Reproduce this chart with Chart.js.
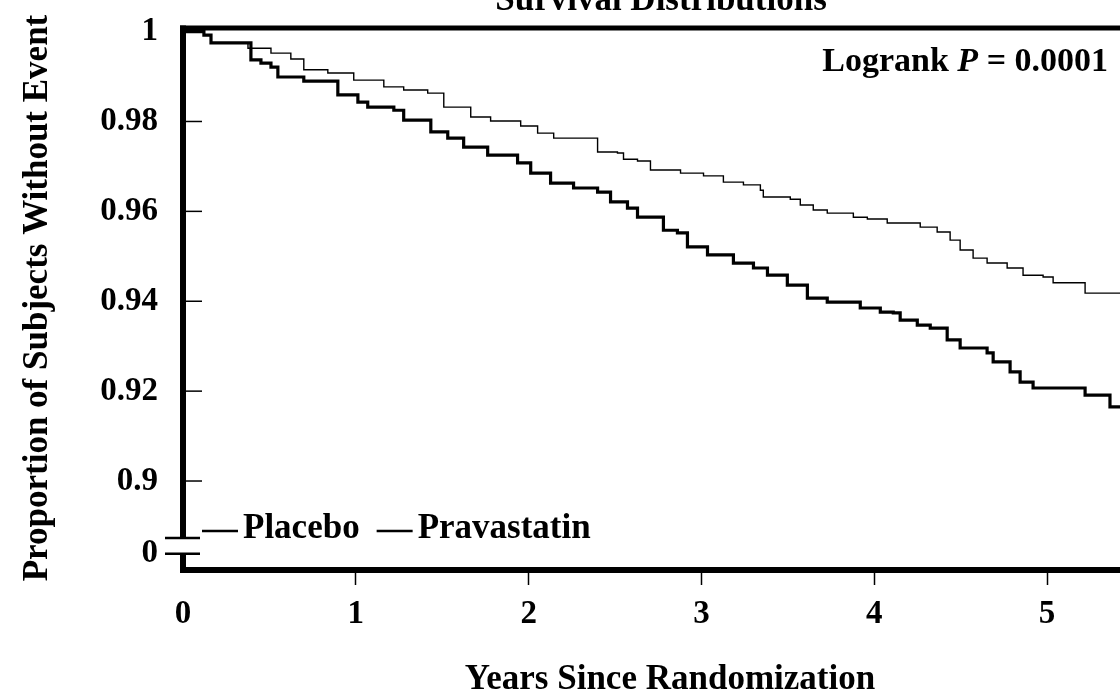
<!DOCTYPE html>
<html lang="en">
<head>
    <meta charset="UTF-8">
    <title>Survival Distributions</title>
    <script src="https://cdn.jsdelivr.net/npm/chart.js"></script>
    <style>
        body { margin: 0; background: #fff; }
        #wrap { width: 1120px; height: 694px; }
    </style>
</head>
<body>
    <div id="wrap">
        <canvas id="survivalChart" width="1120" height="694"></canvas>
    </div>

    <script>
        // Kaplan-Meier estimates (years, proportion without event)
        const placeboYears = [0, 0.121, 0.162, 0.393, 0.451, 0.509, 0.549, 0.699, 0.896, 1.012, 1.069, 1.220,
            1.277, 1.434, 1.532, 1.624, 1.763, 1.936, 2.012, 2.127, 2.260, 2.399, 2.474, 2.572, 2.630, 2.780,
            2.861, 2.919, 3.035, 3.185, 3.301, 3.382, 3.497, 3.613, 3.728, 3.919, 4.035, 4.110, 4.150, 4.249,
            4.324, 4.422, 4.497, 4.653, 4.688, 4.786, 4.844, 4.919, 5.220, 5.364, 5.422];
        const placeboSurvival = [1, 0.9992, 0.9975, 0.9937, 0.9930, 0.9921, 0.9899, 0.9890, 0.9859, 0.9843,
            0.9832, 0.9825, 0.9803, 0.9777, 0.9763, 0.9743, 0.9725, 0.9708, 0.9685, 0.9663, 0.9652, 0.9643,
            0.9621, 0.9607, 0.9587, 0.9558, 0.9552, 0.9521, 0.9503, 0.9485, 0.9474, 0.9458, 0.9436, 0.9407,
            0.9398, 0.9385, 0.9376, 0.9374, 0.9358, 0.9347, 0.9340, 0.9314, 0.9296, 0.9285, 0.9265, 0.9243,
            0.9220, 0.9207, 0.9191, 0.9165, 0.9162];

        const pravaYears = [0, 0.121, 0.162, 0.376, 0.509, 0.624, 0.699, 0.838, 0.988, 1.162, 1.277, 1.416,
            1.509, 1.665, 1.780, 1.954, 2.052, 2.145, 2.399, 2.514, 2.549, 2.630, 2.705, 2.879, 3.012, 3.127,
            3.243, 3.341, 3.358, 3.514, 3.572, 3.647, 3.728, 3.879, 3.960, 4.075, 4.266, 4.364, 4.439, 4.497,
            4.572, 4.653, 4.769, 4.861, 4.977, 5.035, 5.220, 5.422];
        const pravaSurvival = [1, 0.9992, 0.9975, 0.9963, 0.9952, 0.9939, 0.9915, 0.9908, 0.9892, 0.9877,
            0.9870, 0.9863, 0.9832, 0.9810, 0.9801, 0.9790, 0.9774, 0.9763, 0.9732, 0.9730, 0.9716, 0.9712,
            0.9692, 0.9685, 0.9679, 0.9665, 0.9659, 0.9647, 0.9632, 0.9627, 0.9614, 0.9603, 0.9596, 0.9587,
            0.9583, 0.9574, 0.9565, 0.9554, 0.9536, 0.9514, 0.9496, 0.9485, 0.9474, 0.9458, 0.9454, 0.9441,
            0.9418, 0.9418];

        const seriesNames = ['Placebo', 'Pravastatin'];

        // y axis is broken below 0.9; the "0" tick sits just under the break
        const yTickValues = [1, 0.98, 0.96, 0.94, 0.92, 0.9, 0.8838];
        const yTickLabels = ['1', '0.98', '0.96', '0.94', '0.92', '0.9', '0'];
        const yBreakValues = [0.8873, 0.8838];

        const xTickValues = [0, 1, 2, 3, 4, 5];

        const FONT = 'Liberation Serif';
        const toPoints = (xs, ys) => xs.map((x, i) => ({ x: x, y: ys[i] }));

        function line(ctx, x1, y1, x2, y2) {
            ctx.beginPath();
            ctx.moveTo(x1, y1);
            ctx.lineTo(x2, y2);
            ctx.stroke();
        }

        // frame, broken axis, inner ticks, legend and texts
        const decorPlugin = {
            id: 'decor',
            beforeDraw(chart) {
                const ctx = chart.ctx;
                ctx.save();
                ctx.fillStyle = '#fff';
                ctx.fillRect(0, 0, chart.width, chart.height);
                ctx.restore();
            },
            afterDraw(chart) {
                const ctx = chart.ctx;
                const a = chart.chartArea;
                const y = chart.scales.y;
                ctx.save();
                ctx.strokeStyle = '#000';
                ctx.fillStyle = '#000';

                // top frame
                ctx.lineWidth = 5;
                line(ctx, a.left - 3, a.top, a.right, a.top);

                // broken y axis
                const b1 = y.getPixelForValue(yBreakValues[0]);
                const b2 = y.getPixelForValue(yBreakValues[1]);
                ctx.lineWidth = 6;
                line(ctx, a.left, a.top - 2.5, a.left, b1);
                line(ctx, a.left, b2, a.left, a.bottom + 3);
                ctx.lineWidth = 2.5;
                line(ctx, a.left - 18, b1, a.left + 17, b1);
                line(ctx, a.left - 18, b2, a.left + 17, b2);

                // y ticks pointing inward
                ctx.lineWidth = 1.5;
                yTickValues.slice(1, 6).forEach(v => {
                    const py = y.getPixelForValue(v);
                    line(ctx, a.left, py, a.left + 19, py);
                });

                // legend
                ctx.font = 'bold 35px "' + FONT + '"';
                ctx.textBaseline = 'middle';
                ctx.textAlign = 'left';
                const ly = 529;
                let lx = a.left + 19;
                chart.data.datasets.forEach(ds => {
                    ctx.lineWidth = 2.5;
                    line(ctx, lx, ly + 2, lx + 36, ly + 2);
                    ctx.fillText(ds.label, lx + 41, ly);
                    lx += 41 + ctx.measureText(ds.label).width + 17;
                });

                // logrank annotation
                ctx.textBaseline = 'alphabetic';
                ctx.textAlign = 'left';
                const part1 = 'Logrank ';
                const part2 = 'P';
                const part3 = ' = 0.0001';
                const reg = 'bold 34px "' + FONT + '"';
                const ita = 'italic bold 34px "' + FONT + '"';
                ctx.font = reg;
                const w1 = ctx.measureText(part1).width;
                const w3 = ctx.measureText(part3).width;
                ctx.font = ita;
                const w2 = ctx.measureText(part2).width;
                const tx = 1108 - (w1 + w2 + w3);
                ctx.font = reg;
                ctx.fillText(part1, tx, 71);
                ctx.font = ita;
                ctx.fillText(part2, tx + w1, 71);
                ctx.font = reg;
                ctx.fillText(part3, tx + w1 + w2, 71);

                // title, cut off at the top of the page
                ctx.textAlign = 'center';
                ctx.font = 'bold 35px "' + FONT + '"';
                ctx.fillText('Survival Distributions', 661, 10);

                // axis titles
                ctx.font = 'bold 35px "' + FONT + '"';
                ctx.textBaseline = 'middle';
                ctx.fillText('Years Since Randomization', 670, 680);
                ctx.translate(38, 298);
                ctx.rotate(-Math.PI / 2);
                ctx.fillText('Proportion of Subjects Without Event', 0, 0);
                ctx.restore();
            }
        };

        const ctx = document.getElementById('survivalChart').getContext('2d');
        const survivalChart = new Chart(ctx, {
            type: 'line',
            data: {
                datasets: [{
                    label: seriesNames[0],
                    data: toPoints(placeboYears, placeboSurvival),
                    borderColor: '#000',
                    borderWidth: 3.2,
                    stepped: 'before',
                    pointRadius: 0,
                    fill: false
                }, {
                    label: seriesNames[1],
                    data: toPoints(pravaYears, pravaSurvival),
                    borderColor: '#000',
                    borderWidth: 1.4,
                    stepped: 'before',
                    pointRadius: 0,
                    fill: false
                }]
            },
            options: {
                responsive: false,
                animation: false,
                layout: { padding: { top: 28, right: 0, left: 0, bottom: 0 } },
                plugins: {
                    legend: { display: false },
                    tooltip: { enabled: false }
                },
                scales: {
                    x: {
                        type: 'linear',
                        min: 0,
                        max: 5.422,
                        afterBuildTicks: s => { s.ticks = xTickValues.map(v => ({ value: v })); },
                        afterFit: s => { s.height = 124; s.paddingLeft = 0; s.paddingRight = 0; },
                        border: { display: true, color: '#000', width: 6 },
                        grid: {
                            drawOnChartArea: false,
                            drawTicks: true,
                            tickLength: 15,
                            tickWidth: 1.5,
                            tickColor: c => (c.index === 0 ? 'rgba(0,0,0,0)' : '#000')
                        },
                        ticks: {
                            color: '#000',
                            padding: 10,
                            maxRotation: 0,
                            font: { family: FONT, size: 33, weight: 'bold' }
                        }
                    },
                    y: {
                        type: 'linear',
                        min: 0.8802,
                        max: 1.0008,
                        afterBuildTicks: s => { s.ticks = yTickValues.map(v => ({ value: v })); },
                        afterFit: s => { s.width = 183; s.paddingTop = 0; s.paddingBottom = 0; },
                        border: { display: false },
                        grid: { display: false, drawTicks: false },
                        ticks: {
                            color: '#000',
                            padding: 25,
                            font: { family: FONT, size: 33, weight: 'bold' },
                            callback: (v, i) => yTickLabels[i]
                        }
                    }
                }
            },
            plugins: [decorPlugin]
        });
    </script>
</body>
</html>
